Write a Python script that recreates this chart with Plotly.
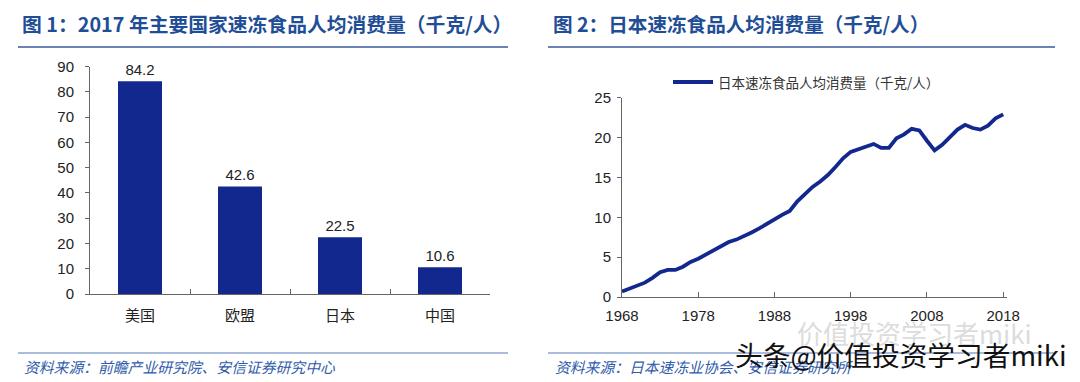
import plotly.graph_objects as go

# ---------------- data ----------------
bar_categories = ["美国", "欧盟", "日本", "中国"]
bar_values = [84.2, 42.6, 22.5, 10.6]

years = list(range(1968, 2019))
japan_consumption = [
    0.7, 1.1, 1.4, 1.8, 2.4, 3.1, 3.4, 3.4, 3.8, 4.4,
    4.8, 5.3, 5.9, 6.4, 6.9, 7.2, 7.6, 8.1, 8.6, 9.2,
    9.7, 10.3, 10.8, 12.0, 12.9, 13.8, 14.5, 15.3, 16.3, 17.4,
    18.2, 18.5, 18.8, 19.2, 18.7, 18.7, 19.9, 20.4, 21.1, 20.9,
    19.6, 18.4, 19.1, 20.0, 21.0, 21.6, 21.2, 21.0, 21.5, 22.4,
    22.9,
]
line_ticks = [1968, 1978, 1988, 1998, 2008, 2018]

title_left = "图 1：2017 年主要国家速冻食品人均消费量（千克/人）"
title_right = "图 2：日本速冻食品人均消费量（千克/人）"
source_left = "资料来源：前瞻产业研究院、安信证券研究中心"
source_right = "资料来源：日本速冻业协会、安信证券研究所"
legend_name = "日本速冻食品人均消费量（千克/人）"

# the page body adds an 8px offset; size the figure to fill the rest of the window
OFF = 8
W, H = 1080 - OFF, 382 - OFF
def px(x):
    return (x - OFF) / W
def py(y):
    return 1 - (y - OFF) / H

NAVY = "#13288E"
TITLE_BLUE = "#1F4E96"
AX = "#666666"
TXT = "#222222"
NUMFONT = "Liberation Sans, Arial, Noto Sans CJK SC"
CJK = "Noto Sans CJK SC, Liberation Sans"

fig = go.Figure()

fig.add_trace(go.Bar(
    x=bar_categories, y=bar_values, xaxis="x", yaxis="y",
    marker=dict(color=NAVY, line=dict(width=0)),
    text=[f"{v:.1f}" for v in bar_values], textposition="outside",
    textfont=dict(family=NUMFONT, size=15, color=TXT),
    cliponaxis=False, showlegend=False, hoverinfo="x+y",
))

fig.add_trace(go.Scatter(
    x=years, y=japan_consumption, xaxis="x2", yaxis="y2",
    mode="lines", line=dict(color=NAVY, width=3.8),
    name=legend_name, showlegend=False, cliponaxis=False,
))

fig.update_layout(
    width=W, height=H,
    margin=dict(l=0, r=0, t=0, b=0, pad=0, autoexpand=False),
    paper_bgcolor="white", plot_bgcolor="white",
    showlegend=False,
    bargap=0.56,
    xaxis=dict(domain=[px(90), px(490)], anchor="y", automargin=False,
               showline=True, linecolor=AX, linewidth=1,
               ticks="inside", ticklen=5, tickcolor=AX, tickson="boundaries",
               tickfont=dict(family=CJK, size=15, color=TXT),
               ticklabelstandoff=8, showgrid=False, zeroline=False),
    yaxis=dict(domain=[py(294), py(66.7)], anchor="x", range=[0, 90], automargin=False,
               dtick=10, showline=True, linecolor=AX, linewidth=1,
               ticks="outside", ticklen=4, tickcolor=AX,
               tickfont=dict(family=NUMFONT, size=15, color=TXT),
               ticklabelstandoff=8, showgrid=False, zeroline=False),
    xaxis2=dict(domain=[px(622), px(1007)], anchor="y2", automargin=False,
                range=[1968, 2018.5], tickvals=line_ticks,
                ticktext=[str(t) for t in line_ticks],
                showline=True, linecolor=AX, linewidth=1,
                ticks="inside", ticklen=5, tickcolor=AX,
                tickfont=dict(family=NUMFONT, size=15, color=TXT),
                ticklabelstandoff=5, showgrid=False, zeroline=False),
    yaxis2=dict(domain=[py(297), py(97.7)], anchor="x2", range=[0, 25], automargin=False,
                dtick=5, showline=True, linecolor=AX, linewidth=1,
                ticks="outside", ticklen=4, tickcolor=AX,
                tickfont=dict(family=NUMFONT, size=15, color=TXT),
                ticklabelstandoff=3, showgrid=False, zeroline=False),
)

shapes = [
    dict(type="line", xref="paper", yref="paper", x0=px(18), x1=px(508), y0=py(47), y1=py(47),
         line=dict(color="#3A5A99", width=1.5)),
    dict(type="line", xref="paper", yref="paper", x0=px(548), x1=px(1055), y0=py(47), y1=py(47),
         line=dict(color="#3A5A99", width=1.5)),
    dict(type="line", xref="paper", yref="paper", x0=px(18), x1=px(508), y0=py(353), y1=py(353),
         line=dict(color="#8EA6D0", width=1.5)),
    dict(type="line", xref="paper", yref="paper", x0=px(548), x1=px(1055), y0=py(353), y1=py(353),
         line=dict(color="#8EA6D0", width=1.5)),
    # legend sample
    dict(type="line", xref="paper", yref="paper", x0=px(673), x1=px(713), y0=py(82), y1=py(82),
         line=dict(color=NAVY, width=4)),
]

annotations = [
    dict(text=f"<b>{title_left}</b>", x=px(20), y=py(23), xref="paper", yref="paper",
         xanchor="left", yanchor="middle", showarrow=False,
         font=dict(family=CJK, size=19.8, color=TITLE_BLUE)),
    dict(text=f"<b>{title_right}</b>", x=px(551), y=py(23), xref="paper", yref="paper",
         xanchor="left", yanchor="middle", showarrow=False,
         font=dict(family=CJK, size=19.6, color=TITLE_BLUE)),
    dict(text=f"<i>{source_left}</i>", x=px(22), y=py(366), xref="paper", yref="paper",
         xanchor="left", yanchor="middle", showarrow=False,
         font=dict(family=CJK, size=14.8, color="#2F5BAA")),
    dict(text=f"<i>{source_right}</i>", x=px(553), y=py(366), xref="paper", yref="paper",
         xanchor="left", yanchor="middle", showarrow=False,
         font=dict(family=CJK, size=14.8, color="#2F5BAA")),
    dict(text=legend_name, x=px(716), y=py(82), xref="paper", yref="paper",
         xanchor="left", yanchor="middle", showarrow=False,
         font=dict(family=CJK, size=13.5, color="#333333")),
    # watermarks
    dict(text="价值投资学习者miki", x=px(795), y=py(332), xref="paper", yref="paper",
         xanchor="left", yanchor="middle", showarrow=False,
         font=dict(family=CJK, size=26, color="#DCDCDC")),
    dict(text="头条@价值投资学习者miki", x=px(733), y=py(354), xref="paper", yref="paper",
         xanchor="left", yanchor="middle", showarrow=False,
         font=dict(family=CJK, size=27.7, color="#111111")),
]

fig.update_layout(shapes=shapes, annotations=annotations)
fig.write_html("out.html")
